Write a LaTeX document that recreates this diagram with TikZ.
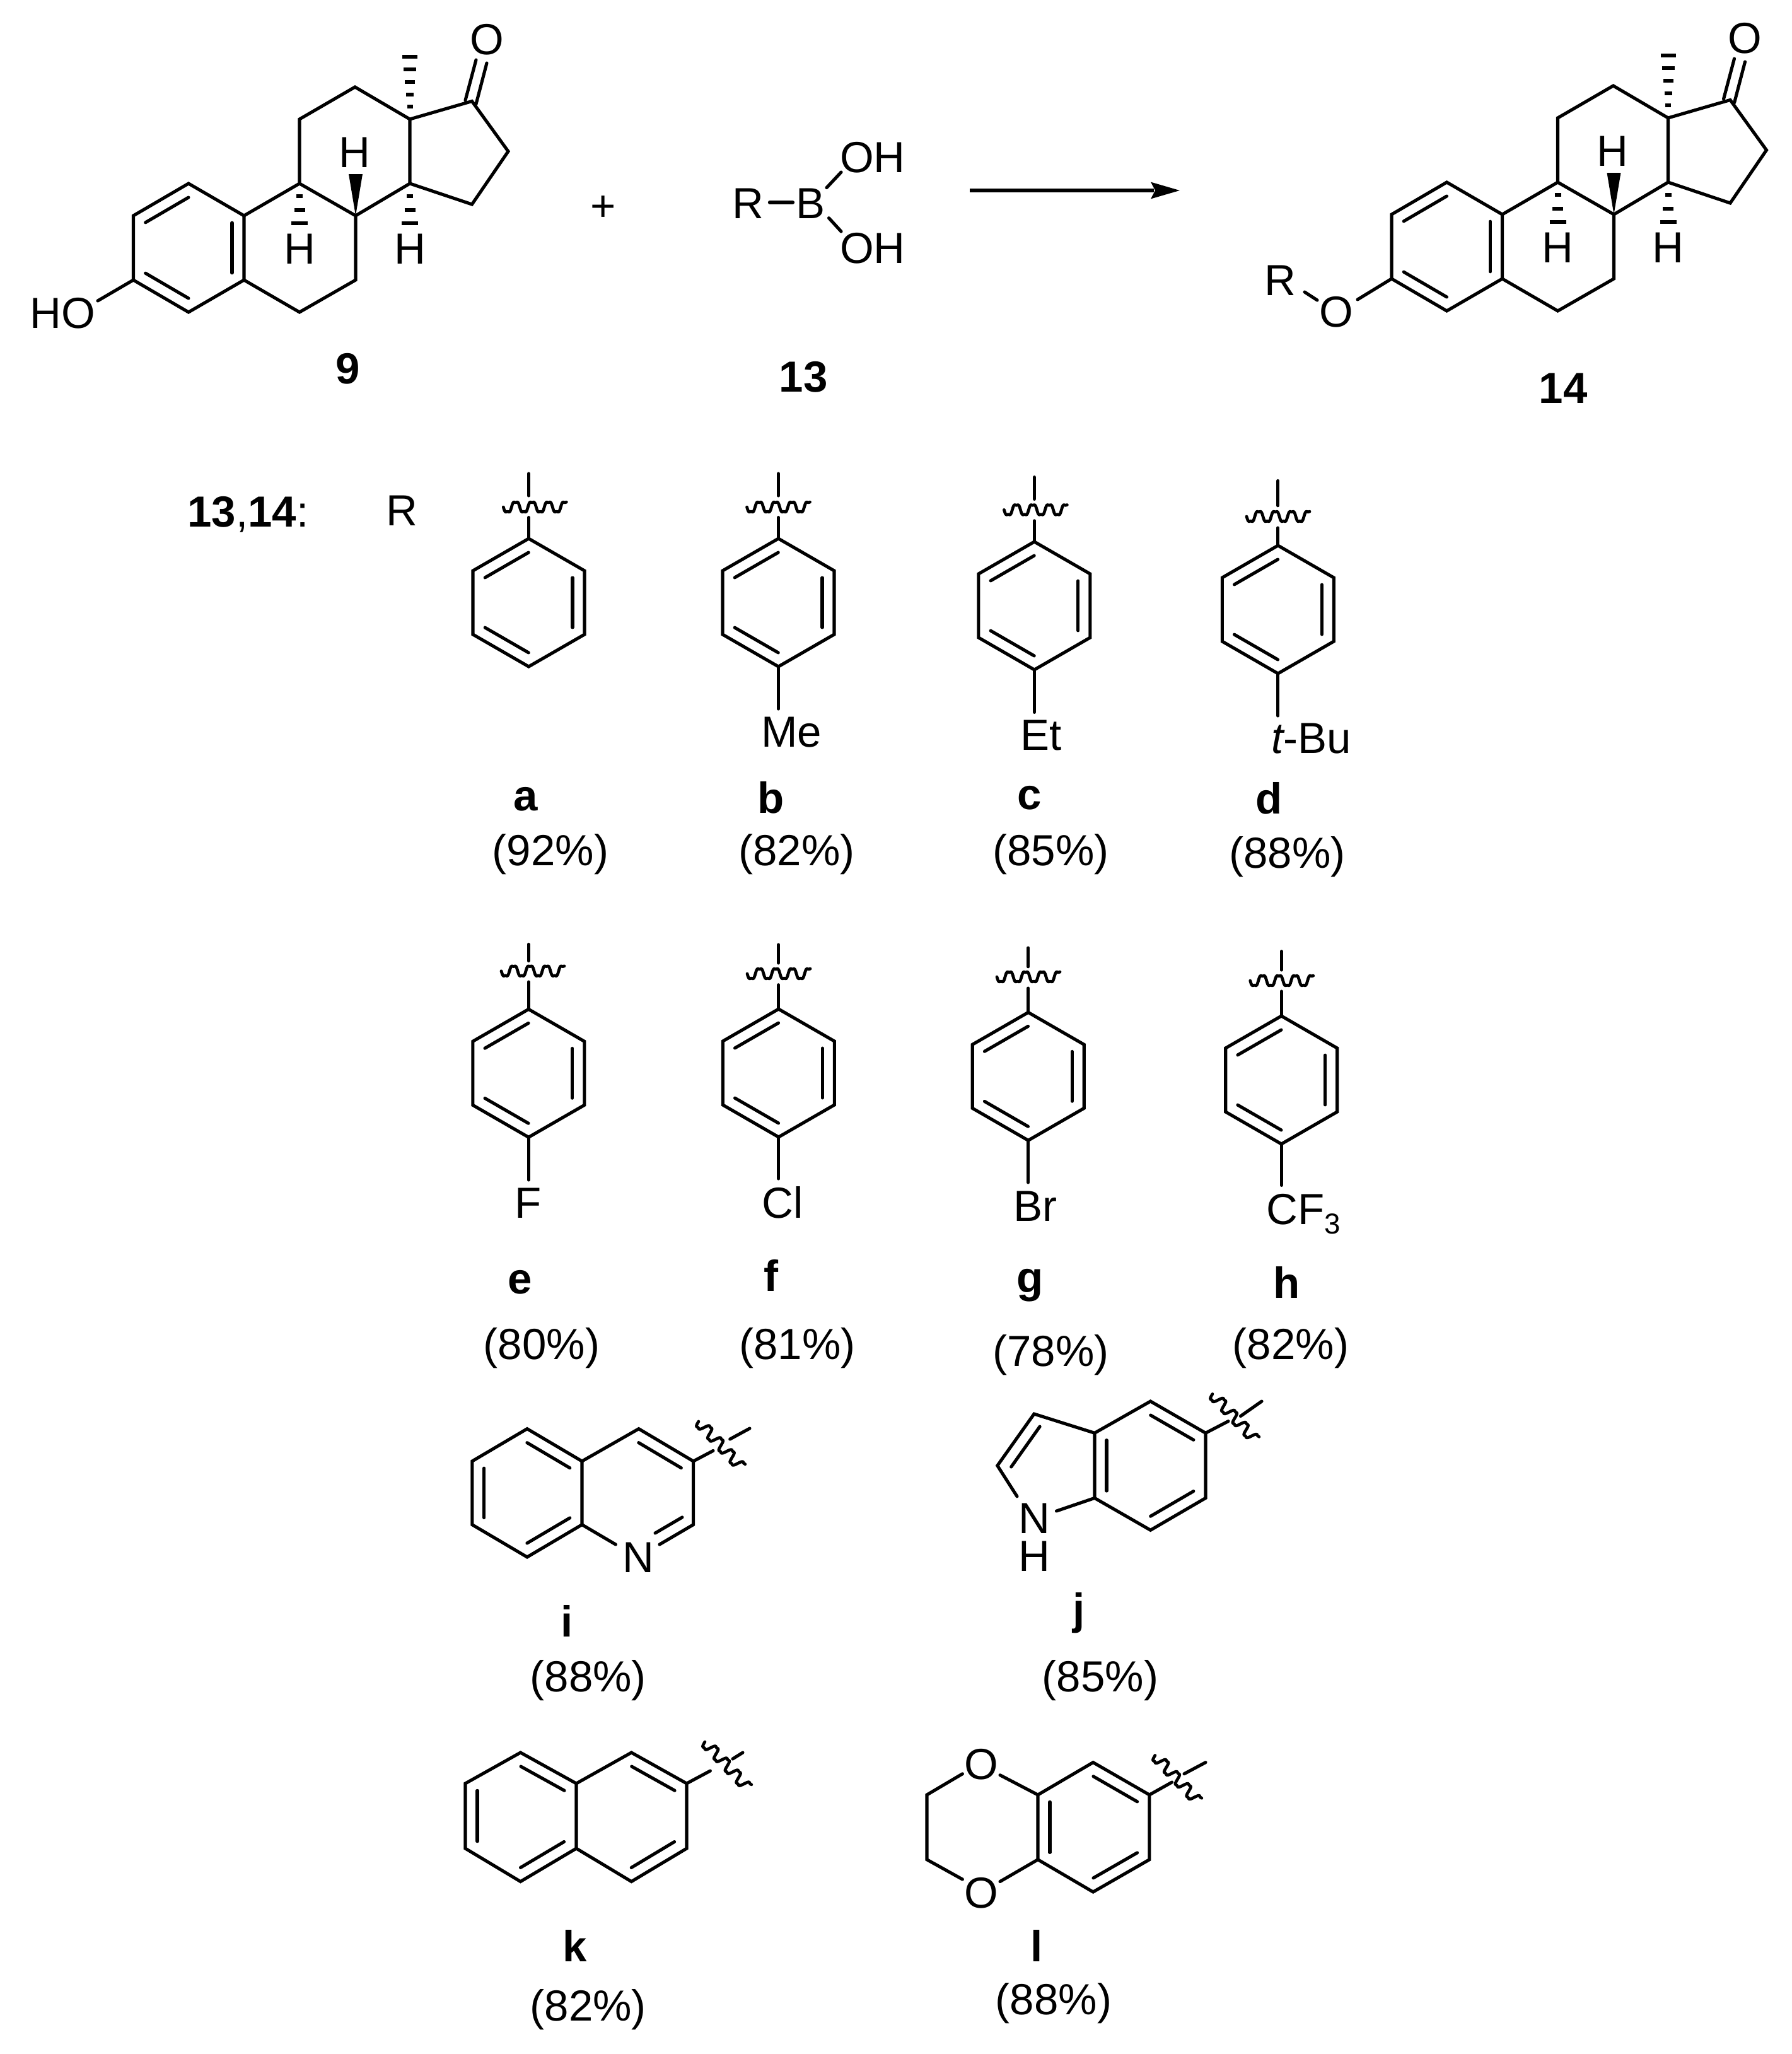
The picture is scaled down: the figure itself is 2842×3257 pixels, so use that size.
\documentclass[tikz,border=0pt]{standalone}
\usepackage{fontspec}
\setmainfont{Liberation Sans}
\usetikzlibrary{calc}
\tikzset{
  bond/.style={line width=1.45pt,line cap=round,line join=miter,black},
  wav/.style={line width=1.35pt,line cap=round,line join=round,black},
  hashbar/.style={line width=1.6pt,black},
  txt/.style={inner sep=0pt,anchor=base,font=\fontsize{19.63}{24}\selectfont,text=black},
  lab/.style={txt,font=\fontsize{19.63}{24}\selectfont\bfseries},
}
\newcommand{\dbl}[2]{\draw[bond] ($(#1)!.11!(#2)!.19cm!-90:(#2)$) -- ($(#2)!.11!(#1)!.19cm!90:(#1)$);}
\newcommand{\wavy}[3]{\begin{scope}[shift={(#1,#2)},rotate=#3]
  \draw[wav] plot[domain=-50:50,samples=120] (\x,{9*(sin((\x+50)/26*360)+0.2*sin((\x+50)/26*1080))});
\end{scope}}
\newcommand{\hb}[3]{\draw[hashbar] (#1-#3/2,#2) -- (#1+#3/2,#2);}
\newcommand{\steroid}[3]{\begin{scope}[shift={(#2,#3)},name prefix=#1-]
  \coordinate (C1) at (299,291); \coordinate (C2) at (211.5,342);
  \coordinate (C3) at (211.5,444); \coordinate (C4) at (299,495);
  \coordinate (C5) at (387,444); \coordinate (C10) at (387,342);
  \coordinate (C6) at (475,495); \coordinate (C7) at (564,444);
  \coordinate (C8) at (564,342); \coordinate (C9) at (475,291);
  \coordinate (C11) at (475,189); \coordinate (C12) at (563,138);
  \coordinate (C13) at (650,189); \coordinate (C14) at (650,291);
  \coordinate (C15) at (748.5,324); \coordinate (C16) at (806,240);
  \coordinate (C17) at (748.5,160.5);
  \coordinate (Oa) at (738,159); \coordinate (Ob) at (755,95);
  \coordinate (Oc) at (755,165); \coordinate (Od) at (772,100);
  \draw[bond] (C1)--(C2)--(C3)--(C4)--(C5)--(C10)--cycle;
  \draw[bond] (C5)--(C6)--(C7)--(C8)--(C9)--(C10);
  \draw[bond] (C9)--(C11)--(C12)--(C13)--(C14)--(C8);
  \draw[bond] (C13)--(C17)--(C16)--(C15)--(C14);
  \dbl{C2}{C1} \dbl{C10}{C5} \dbl{C4}{C3}
  \draw[bond] (Oa)--(Ob); \draw[bond] (Oc)--(Od);
  \fill[black] (C8) -- (553,276) -- (575,276) -- cycle;
  \hb{475}{311}{10}\hb{475}{333}{17}\hb{475}{354}{26}
  \hb{650}{311}{10}\hb{650}{333}{17}\hb{650}{354}{26}
  \hb{650}{169}{9}\hb{650}{150}{12}\hb{650}{130}{16}\hb{650}{110}{20}\hb{650}{90}{24}
  \node[txt] (Hu) at (562,265) {H};
  \node[txt] (Hl) at (475,418) {H};
  \node[txt] (Hr) at (650,418) {H};
  \node[txt] (Ok) at (772,86) {O};
\end{scope}}
\newcommand{\aryl}[8]{\begin{scope}[name prefix=#1-]
  \coordinate (t) at (#2,#3);
  \coordinate (ul) at (#2-88.5,#3+51); \coordinate (ur) at (#2+88.5,#3+51);
  \coordinate (ll) at (#2-88.5,#3+152); \coordinate (lr) at (#2+88.5,#3+152);
  \coordinate (b) at (#2,#3+203);
  \coordinate (s1) at (#2,#6); \coordinate (s2) at (#2,#7); \coordinate (s3) at (#2,#8);
  \draw[bond] (t)--(ur)--(lr)--(b)--(ll)--(ul)--cycle;
  \dbl{ul}{t} \dbl{ur}{lr} \dbl{b}{ll}
  \draw[bond] (t)--(s3); \draw[bond] (s2)--(s1);
  \wavy{#4}{#5}{0}
\end{scope}}
\begin{document}
\begin{tikzpicture}[x=0.01cm,y=-0.01cm]
\useasboundingbox (0,0) rectangle (2842,3257);
% compound 9
\steroid{m}{0}{0}
\node[txt] (HO) at (99,520) {HO};
\coordinate (HOe) at (155,477);
\draw[bond] (m-C3) -- (HOe);
\node[lab] (n9) at (551.5,608) {9};
% plus, boronic acid
\node[txt] (plus) at (957,350) {+};
\node[txt] (R13) at (1186,346) {R};
\node[txt] (B13) at (1286,346) {B};
\node[txt] (OH1) at (1384,273.5) {OH};
\node[txt] (OH2) at (1384,417) {OH};
\coordinate (rb1) at (1221,321); \coordinate (rb2) at (1257,321);
\coordinate (bo1) at (1311,297.6); \coordinate (bo2) at (1334,273);
\coordinate (bo3) at (1314.5,345.7); \coordinate (bo4) at (1334,367);
\draw[bond,line width=1.8pt] (rb1)--(rb2); \draw[bond] (bo1)--(bo2); \draw[bond] (bo3)--(bo4);
\node[lab] (n13) at (1274,621) {13};
% arrow
\coordinate (ar1) at (1538,302); \coordinate (ar2) at (1830,302);
\draw[line width=1.7pt,black] (ar1)--(ar2);
\fill[black] (1871,302) -- (1825,288.6) -- (1832,302) -- (1825,315.4) -- cycle;
% compound 14
\steroid{p}{1995.5}{-2}
\node[txt] (Rp) at (2030,468) {R};
\node[txt] (Op) at (2119,518) {O};
\coordinate (oc) at (2153,475); \coordinate (ro1) at (2069,463); \coordinate (ro2) at (2089,476);
\draw[bond] (p-C3)--(oc); \draw[bond] (ro1)--(ro2);
\node[lab] (n14) at (2479,639.6) {14};
% header
\node[txt,anchor=base west] (hdr) at (296.7,835.7) {\textbf{13},\textbf{14}:};
\node[txt] (Rh) at (637,833) {R};
% first row
\aryl{a}{838.5}{854}{848.3}{804}{751}{786}{820.5}
\aryl{b}{1234.5}{854}{1234.5}{804}{751}{786}{820.5}
\aryl{c}{1640.4}{859}{1642.4}{808.4}{756.6}{791.4}{825.8}
\aryl{d}{2026.8}{865}{2027}{819}{762.4}{801.7}{837}
\coordinate (bs) at (1234.5,1124); \draw[bond] (b-b)--(bs);
\coordinate (cs) at (1640.4,1129.4); \draw[bond] (c-b)--(cs);
\coordinate (ds) at (2026.8,1135); \draw[bond] (d-b)--(ds);
\node[txt] (Me) at (1255,1184) {Me};
\node[txt] (Et) at (1650.6,1189.6) {Et};
\node[txt] (tBu) at (2080,1194) {{\itshape t}-Bu};
\node[lab] (la) at (834,1285) {a};
\node[lab] (lb) at (1223,1289) {b};
\node[lab] (lc) at (1632.7,1283.4) {c};
\node[lab] (ld) at (2013,1290.5) {d};
\node[txt] (ya) at (873,1372) {(92\%)};
\node[txt] (yb) at (1263.5,1372) {(82\%)};
\node[txt] (yc) at (1666.6,1372) {(85\%)};
\node[txt] (yd) at (2041.3,1376) {(88\%)};
% second row
\aryl{e}{838.3}{1600.3}{845}{1539.7}{1497.4}{1523.6}{1557}
\aryl{f}{1234.8}{1600}{1235}{1544}{1498}{1527}{1561.7}
\aryl{g}{1630.7}{1605.3}{1631}{1549}{1503}{1532.8}{1567}
\aryl{h}{2032.2}{1611}{2032.7}{1555}{1508.5}{1538}{1572}
\coordinate (es) at (838.3,1871); \draw[bond] (e-b)--(es);
\coordinate (fs) at (1234.8,1869); \draw[bond] (f-b)--(fs);
\coordinate (gs) at (1630.7,1875); \draw[bond] (g-b)--(gs);
\coordinate (hs) at (2032.2,1879.4); \draw[bond] (h-b)--(hs);
\node[txt] (F) at (838,1931) {F};
\node[txt] (Cl) at (1241,1931) {Cl};
\node[txt] (Br) at (1641.7,1936) {Br};
\node[txt] (CF) at (2067.5,1941.4) {CF\raisebox{-4.27pt}{\fontsize{13}{13}\selectfont 3}};
\node[lab] (le) at (824.4,2051.6) {e};
\node[lab] (lf) at (1223,2047) {f};
\node[lab] (lg) at (1634,2049) {g};
\node[lab] (lh) at (2040.7,2058.5) {h};
\node[txt] (ye) at (859,2155) {(80\%)};
\node[txt] (yf) at (1264.6,2155) {(81\%)};
\node[txt] (yg) at (1666.6,2166) {(78\%)};
\node[txt] (yh) at (2047,2155) {(82\%)};
% quinoline i
\coordinate (i1) at (923,2417.6); \coordinate (i2) at (923,2317); \coordinate (i3) at (836,2265.6);
\coordinate (i4) at (748.8,2317); \coordinate (i5) at (748.8,2417.6); \coordinate (i6) at (836,2469);
\coordinate (i7) at (1013,2265.6); \coordinate (i8) at (1099.6,2317); \coordinate (i9) at (1099.6,2417.6);
\coordinate (i10) at (976.4,2449); \coordinate (i11) at (1046,2449);
\coordinate (i12) at (1131,2300.4); \coordinate (i13) at (1157.7,2282); \coordinate (i14) at (1189,2265);
\draw[bond] (i1)--(i2)--(i3)--(i4)--(i5)--(i6)--cycle;
\draw[bond] (i2)--(i7)--(i8)--(i9)--(i11);
\draw[bond] (i1)--(i10);
\dbl{i3}{i2} \dbl{i5}{i4} \dbl{i1}{i6} \dbl{i7}{i8}
\draw[bond] ($(i9)!.15!(i11)!.19cm!-90:(i11)$) -- ($(i9)!.95!(i11)!.19cm!-90:(i11)$);
\draw[bond] (i8)--(i12); \draw[bond] (i13)--(i14);
\wavy{1142}{2290.5}{-47}
\node[txt] (Ni) at (1012,2493) {N};
\node[lab] (li) at (898.8,2595) {i};
\node[txt] (yi) at (932.7,2682) {(88\%)};
% indole j
\coordinate (j1) at (1824.6,2222); \coordinate (j2) at (1912,2272.3); \coordinate (j3) at (1912,2375.4);
\coordinate (j4) at (1824.6,2426.3); \coordinate (j5) at (1736,2375.4); \coordinate (j6) at (1736,2272.3);
\coordinate (j7) at (1640,2242); \coordinate (j8) at (1581.8,2324);
\coordinate (j9) at (1613,2372.8); \coordinate (j10) at (1675.5,2396);
\coordinate (j11) at (1948,2253.6); \coordinate (j12) at (1967.5,2245.5); \coordinate (j13) at (2001,2222);
\draw[bond] (j1)--(j2)--(j3)--(j4)--(j5)--(j6)--cycle;
\draw[bond] (j6)--(j7)--(j8)--(j9); \draw[bond] (j5)--(j10);
\dbl{j1}{j2} \dbl{j3}{j4} \dbl{j5}{j6} \dbl{j8}{j7}
\draw[bond] (j2)--(j11); \draw[bond] (j12)--(j13);
\wavy{1957}{2247}{-47}
\node[txt] (Nj) at (1640,2431) {N};
\node[txt] (Hj) at (1640,2491) {H};
\node[lab] (lj) at (1711,2575) {j};
\node[txt] (yj) at (1745,2682) {(85\%)};
% naphthalene k
\coordinate (k1) at (914,2828); \coordinate (k2) at (914,2931); \coordinate (k3) at (825.5,2779);
\coordinate (k4) at (738,2828); \coordinate (k5) at (738,2931); \coordinate (k6) at (825.5,2983.5);
\coordinate (k7) at (1001.4,2779); \coordinate (k8) at (1089,2828); \coordinate (k9) at (1089,2931);
\coordinate (k10) at (1001.4,2983.5);
\coordinate (k11) at (1126.4,2808); \coordinate (k12) at (1162,2789); \coordinate (k13) at (1178,2779);
\draw[bond] (k1)--(k2)--(k6)--(k5)--(k4)--(k3)--cycle;
\draw[bond] (k1)--(k7)--(k8)--(k9)--(k10)--(k2);
\dbl{k3}{k1} \dbl{k5}{k4} \dbl{k2}{k6} \dbl{k7}{k8} \dbl{k9}{k10}
\draw[bond] (k8)--(k11); \draw[bond] (k12)--(k13);
\wavy{1152}{2798.6}{-47}
\node[lab] (lk) at (912,3110.7) {k};
\node[txt] (yk) at (932.7,3204.5) {(82\%)};
% benzodioxane l
\coordinate (l1) at (1646,2846); \coordinate (l2) at (1646,2948.7); \coordinate (l3) at (1733.6,2794.6);
\coordinate (l4) at (1822.9,2846); \coordinate (l5) at (1822.9,2948.7); \coordinate (l6) at (1733.6,3000);
\coordinate (l7) at (1470,2846); \coordinate (l8) at (1470,2948.7);
\coordinate (l9) at (1586,2814.7); \coordinate (l10) at (1526.4,2812.7);
\coordinate (l11) at (1526.4,2980); \coordinate (l12) at (1586,2983.5);
\coordinate (l13) at (1858.6,2826); \coordinate (l14) at (1878,2812.7); \coordinate (l15) at (1912,2794.6);
\draw[bond] (l1)--(l3)--(l4)--(l5)--(l6)--(l2)--cycle;
\draw[bond] (l1)--(l9); \draw[bond] (l2)--(l12);
\draw[bond] (l10)--(l7)--(l8)--(l11);
\dbl{l2}{l1} \dbl{l3}{l4} \dbl{l5}{l6}
\draw[bond] (l4)--(l13); \draw[bond] (l14)--(l15);
\wavy{1866}{2820}{-47}
\node[txt] (Oa) at (1556.8,2821) {O};
\node[txt] (Ob) at (1556.8,3025) {O};
\node[lab] (ll) at (1644,3110.7) {l};
\node[txt] (yl) at (1671,3194) {(88\%)};
\end{tikzpicture}
\end{document}
